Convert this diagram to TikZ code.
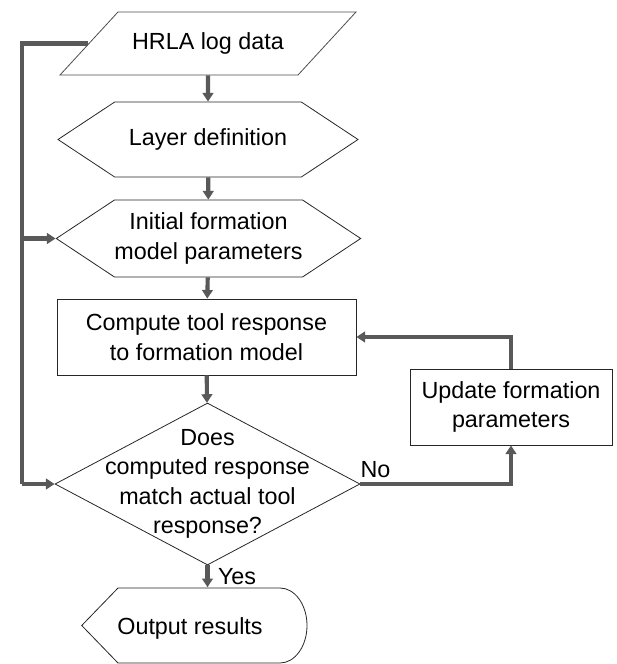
\documentclass[tikz,border=0pt]{standalone}
\usepackage{fontspec}
\setmainfont{Liberation Sans}
\usetikzlibrary{shapes.geometric,shapes.symbols,arrows.meta}

\tikzset{
  shp/.style={draw=black!85, line width=0.6pt, align=center, inner sep=0pt},
  prep/.style={shp, signal, signal to=west and east, signal pointer angle=67},
  proc/.style={shp, rectangle},
  decision/.style={shp, diamond},
  flow/.style={line width=3.1pt, draw=gray!70!black, -{Triangle[length=6.5pt,width=8pt]}},
}

\begin{document}
\begin{tikzpicture}[x=0.75pt,y=0.75pt,font=\fontsize{17.5}{22}\selectfont]
\useasboundingbox (0,0) rectangle (617,-664);

% main column
\node[align=center, inner sep=0pt, minimum width=180pt, minimum height=47.25pt] (hrla) at (208,-43.5) {HRLA log data};
\draw[draw=black!70, line width=0.6pt] (60,-75) -- (298,-75) -- (356,-12) -- (118,-12) -- cycle;
\node[prep, minimum width=225pt, minimum height=56.25pt] (layer) at (208,-139.5) {Layer definition};
\node[prep, minimum width=219.75pt, minimum height=57.75pt] (init) at (208.5,-238.5) {Initial formation\\model parameters};
\node[proc, minimum width=224.25pt, minimum height=57pt] (comp) at (206.5,-337) {Compute tool response\\to formation model};
\node[decision, minimum width=228.75pt, minimum height=121.5pt,
  label={[align=center, font=\fontsize{17.5}{22}\selectfont]center:Does\\computed response\\match actual tool\\response?}] (test) at (207.5,-484) {};
\node[proc, minimum width=151.5pt, minimum height=57pt] (upd) at (511,-407) {Update formation\\parameters};

% output (display shape)
\node[inner sep=0pt, minimum width=168.75pt, minimum height=57pt] (out) at (194.5,-625.5) {};
\node at (190,-628) {Output results};
\draw[draw=black!85, line width=0.6pt] (out.west) -- (118,-588) -- (280,-588)
  arc[start angle=90, end angle=-90, x radius=27, y radius=37.5] -- (118,-663) -- cycle;

% arrows
\draw[flow] (hrla) -- (layer);
\draw[flow] (layer) -- (init);
\draw[flow] (init) -- (comp);
\draw[flow] (comp) -- (test);
\draw[flow] (test.south) -- (test.south |- out.north) node[right=3pt, midway] {Yes};
\draw[flow] (test.east) -| (upd.south) node[pos=0.05, above] {No};
\draw[flow] (upd.north) |- (comp.east);

% feedback of log data
\coordinate (feed) at (22,0);
\draw[flow, -] (hrla.west) -| (feed |- test.west);
\draw[flow] (feed |- test.west) -- (test.west);
\draw[flow] (feed |- init.west) -- (init.west);
\end{tikzpicture}
\end{document}
